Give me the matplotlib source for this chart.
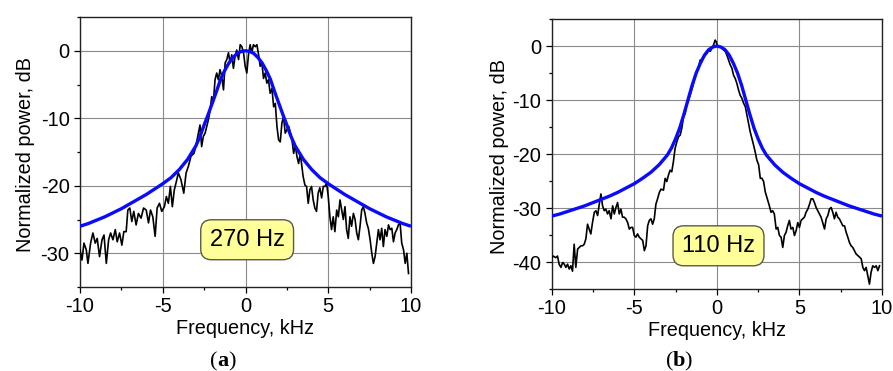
import matplotlib
matplotlib.use("Agg")
import matplotlib.pyplot as plt
from matplotlib.ticker import MultipleLocator

plt.rcParams['font.family'] = ['Liberation Sans', 'DejaVu Sans']
plt.rcParams['axes.unicode_minus'] = False

# ---------------- panel (a): measured spectrum and fit, 270 Hz ----------------
a_freq = [
    -10.0, -9.88, -9.76, -9.62, -9.52, -9.36, -9.22, -9.08, -8.96, -8.82,
    -8.67, -8.55, -8.41, -8.27, -8.15, -8.01, -7.87, -7.75, -7.61, -7.47,
    -7.35, -7.21, -7.11, -6.99, -6.87, -6.75, -6.61, -6.47, -6.31, -6.16,
    -6.0, -5.86, -5.74, -5.6, -5.46, -5.34, -5.2, -5.06, -4.9, -4.78,
    -4.66, -4.54, -4.42, -4.3, -4.18, -4.06, -3.9, -3.73, -3.59, -3.45,
    -3.29,
    -3.11, -2.99, -2.85, -2.75, -2.65, -2.55, -2.44, -2.34, -2.24, -2.14,
    -2.04, -1.94, -1.84, -1.74, -1.64, -1.54, -1.43, -1.33, -1.23, -1.13,
    -1.03, -0.93, -0.83, -0.73, -0.63, -0.53, -0.42, -0.32, -0.22, -0.12,
    -0.02, 0.08, 0.18, 0.28, 0.38, 0.48, 0.59, 0.69, 0.79, 0.89,
    0.99, 1.09, 1.19, 1.29, 1.39, 1.49, 1.6, 1.7, 1.8, 1.9,
    2.0, 2.1, 2.2, 2.3, 2.4, 2.5, 2.61, 2.71, 2.81, 2.91,
    3.01, 3.11, 3.21, 3.31,
    3.48, 3.59, 3.69, 3.79, 3.89, 3.99, 4.09, 4.19, 4.29, 4.39,
    4.49, 4.6, 4.7, 4.8, 4.9, 5.0, 5.1, 5.2, 5.3, 5.4,
    5.51, 5.61, 5.71, 5.81, 5.91, 6.01, 6.11, 6.21, 6.31, 6.41,
    6.52, 6.62, 6.72, 6.82, 6.92, 7.02, 7.12, 7.22, 7.32, 7.42,
    7.53, 7.63, 7.73, 7.83, 7.93, 8.03, 8.13, 8.23, 8.33, 8.43,
    8.54, 8.64, 8.74, 8.84, 8.94, 9.04, 9.14, 9.24, 9.34, 9.44,
    9.55, 9.65, 9.75, 9.85,
]
a_power = [
    -29.5, -31.0, -28.5, -29.5, -31.5, -28.5, -27.0, -28.5, -27.8, -30.5,
    -28.0, -27.3, -31.5, -28.0, -27.0, -28.0, -26.5, -28.3, -27.0, -28.8,
    -26.8, -26.8, -23.6, -23.3, -25.3, -23.8, -25.8, -24.1, -24.8, -23.3,
    -23.6, -25.5, -23.6, -24.6, -27.5, -23.3, -22.6, -23.8, -23.1, -21.6,
    -22.6, -20.1, -23.1, -20.6, -19.4, -18.1, -19.1, -21.1, -18.1, -17.1,
    -15.6,
    -15.2, -14.0, -12.2, -11.0, -14.2, -12.7, -12.2, -11.2, -10.2, -8.8,
    -6.8, -7.5, -4.3, -3.3, -4.3, -2.8, -3.8, -5.8, -1.8, -1.3,
    -0.3, -1.8, -0.6, -2.6, -0.8, 0.1, -1.3, 0.9, 0.6, -0.3,
    -2.3, -3.3, -0.6, 0.9, -0.3, 0.9, 0.6, 0.9, -0.6, -2.3,
    -1.8, -4.1, -3.3, -4.8, -4.3, -6.3, -5.6, -8.3, -7.8, -11.2,
    -13.2, -13.5, -10.7, -9.8, -12.2, -11.7, -11.2, -12.2, -13.2, -15.2,
    -14.0, -15.7, -16.7, -15.2,
    -18.6, -19.9, -20.1, -22.6, -20.6, -20.1, -22.1, -23.3, -23.8, -21.1,
    -20.3, -21.8, -20.1, -20.1, -19.6, -21.6, -24.6, -26.5, -24.6, -26.8,
    -23.6, -24.6, -22.1, -23.6, -25.0, -23.1, -26.5, -27.8, -24.6, -26.0,
    -24.1, -25.0, -27.0, -28.0, -26.0, -23.6, -23.1, -24.1, -25.5, -26.3,
    -28.0, -30.0, -31.5, -30.5, -28.5, -26.5, -28.0, -26.3, -29.0, -26.5,
    -27.5, -25.8, -26.5, -26.3, -28.3, -27.0, -26.5, -25.8, -25.5, -28.5,
    -29.5, -31.5, -30.0, -33.0,
]

a_fit_freq = [
    -10.0, -9.5, -9.0, -8.5, -8.0, -7.5, -7.0, -6.5, -6.0, -5.5,
    -5.0, -4.5, -4.0, -3.5, -3.0, -2.75, -2.5, -2.25, -2.0, -1.75,
    -1.5, -1.25, -1.0, -0.75, -0.5, -0.25, 0.0,
    0.25, 0.5, 0.75, 1.0, 1.25, 1.5, 1.75, 2.0, 2.25, 2.5,
    2.75, 3.0, 3.5, 4.0, 4.5, 5.0, 5.5, 6.0, 6.5, 7.0,
    7.5, 8.0, 8.5, 9.0, 9.5, 10.0,
]
a_fit_power = [
    -26.0, -25.6, -25.1, -24.6, -24.0, -23.4, -22.7, -22.0, -21.3, -20.5,
    -19.7, -18.8, -17.6, -16.1, -14.1, -12.7, -11.0, -9.4, -7.7, -6.0,
    -4.2, -2.9, -1.8, -1.0, -0.4, -0.1, 0.0,
    -0.1, -0.4, -1.0, -1.8, -2.9, -4.2, -6.0, -7.7, -9.4, -11.0,
    -12.7, -14.1, -16.1, -17.6, -18.8, -19.7, -20.5, -21.3, -22.0, -22.7,
    -23.4, -24.0, -24.6, -25.1, -25.6, -26.0,
]

# ---------------- panel (b): measured spectrum and fit, 110 Hz ----------------
b_freq = [
    -10.0, -9.91, -9.75, -9.65, -9.55, -9.44, -9.34, -9.24, -9.14, -9.04,
    -8.94, -8.84, -8.74, -8.64, -8.54, -8.43, -8.33, -8.23, -8.13, -8.03,
    -7.93, -7.83, -7.73, -7.63, -7.53, -7.42, -7.32, -7.22, -7.12, -7.02,
    -6.92, -6.82, -6.72, -6.62, -6.52, -6.41, -6.31, -6.21, -6.11, -6.01,
    -5.91, -5.81, -5.71, -5.61, -5.51, -5.4, -5.3, -5.2, -5.1, -5.0,
    -4.9, -4.8, -4.7, -4.6, -4.49, -4.39, -4.29, -4.19, -4.09, -3.99,
    -3.89, -3.79, -3.69, -3.59, -3.48, -3.38,
    -3.23, -3.13, -3.03, -2.93, -2.83, -2.73, -2.63, -2.53, -2.42, -2.32,
    -2.22, -2.12, -2.02, -1.92, -1.82, -1.72, -1.62, -1.52, -1.41, -1.31,
    -1.21, -1.11, -1.01, -0.91, -0.81, -0.71, -0.61, -0.51, -0.40, -0.30,
    -0.20, -0.10, -0.04, 0.04, 0.16, 0.30, 0.40, 0.51, 0.61, 0.71,
    0.81, 0.91, 1.01, 1.11, 1.21, 1.31, 1.41, 1.52, 1.62, 1.72,
    1.82, 1.92, 2.02, 2.12, 2.22, 2.32, 2.42, 2.53, 2.63, 2.73,
    2.83, 2.93,
    3.18, 3.28, 3.38, 3.48, 3.59, 3.69, 3.79, 3.89, 3.99, 4.09,
    4.19, 4.29, 4.39, 4.49, 4.6, 4.7, 4.8, 4.9, 5.0, 5.1,
    5.2, 5.3, 5.4, 5.51, 5.61, 5.71, 5.81, 5.91, 6.01, 6.11,
    6.21, 6.31, 6.41, 6.52, 6.62, 6.72, 6.82, 6.92, 7.02, 7.12,
    7.22, 7.32, 7.42, 7.53, 7.63, 7.73, 7.83, 7.93, 8.03, 8.13,
    8.23, 8.33, 8.43, 8.54, 8.64, 8.74, 8.84, 8.94, 9.04, 9.14,
    9.24, 9.34, 9.44, 9.55, 9.65, 9.75, 9.85,
]
b_power = [
    -39.2, -38.9, -39.2, -38.9, -40.4, -41.0, -40.1, -40.4, -41.0, -40.4,
    -41.3, -40.7, -41.7, -36.7, -41.0, -37.6, -37.3, -37.0, -37.0, -36.7,
    -35.7, -33.0, -33.9, -34.8, -32.7, -30.8, -30.5, -31.4, -29.3, -27.4,
    -29.6, -30.5, -30.2, -31.1, -30.5, -32.0, -29.6, -31.1, -29.9, -29.0,
    -31.1, -30.2, -31.7, -31.7, -32.0, -32.7, -33.9, -33.6, -33.6, -35.1,
    -35.4, -34.8, -35.4, -35.7, -36.0, -37.9, -37.0, -33.3, -32.3, -32.0,
    -33.0, -32.0, -29.3, -28.3, -27.1, -26.5,
    -26.7, -24.5, -25.1, -23.9, -23.0, -23.3, -21.4, -19.0, -17.7, -16.8,
    -16.5, -15.2, -13.1, -12.5, -10.9, -10.0, -9.1, -8.1, -6.9, -5.7,
    -4.8, -4.1, -2.6, -2.6, -2.0, -1.7, -1.4, -0.7, -1.0, -0.4,
    0.2, 1.1, 0.8, -0.1, -0.1, -0.4, -0.7, -1.0, -1.7, -2.6,
    -3.5, -4.1, -5.4, -6.0, -6.9, -8.1, -9.1, -9.7, -10.6, -11.2,
    -12.8, -14.3, -15.9, -17.1, -18.3, -19.6, -21.1, -22.0, -24.5, -24.5,
    -25.1, -27.0,
    -29.6, -30.8, -30.5, -31.1, -33.9, -33.6, -35.1, -35.4, -37.3, -35.1,
    -34.5, -33.3, -32.3, -33.9, -33.6, -35.1, -34.2, -32.7, -33.6, -32.3,
    -32.0, -31.7, -30.8, -30.2, -29.3, -28.3, -28.3, -29.0, -29.9, -30.5,
    -31.1, -31.7, -32.7, -33.9, -32.0, -31.4, -30.2, -29.9, -30.8, -32.0,
    -30.8, -31.7, -32.0, -32.7, -33.3, -33.3, -34.5, -35.4, -36.4, -37.0,
    -37.3, -37.9, -38.5, -38.8, -39.1, -39.4, -41.0, -41.6, -41.0, -42.5,
    -44.1, -41.9, -40.7, -41.0, -40.7, -41.6, -40.7,
]

b_fit_freq = [
    -10.0, -9.5, -9.0, -8.5, -8.0, -7.5, -7.0, -6.5, -6.0, -5.5,
    -5.0, -4.5, -4.0, -3.5, -3.0, -2.75, -2.5, -2.25, -2.0, -1.75,
    -1.5, -1.25, -1.0, -0.75, -0.5, -0.25, 0.0,
    0.25, 0.5, 0.75, 1.0, 1.25, 1.5, 1.75, 2.0, 2.25, 2.5,
    2.75, 3.0, 3.5, 4.0, 4.5, 5.0, 5.5, 6.0, 6.5, 7.0,
    7.5, 8.0, 8.5, 9.0, 9.5, 10.0,
]
b_fit_power = [
    -31.5, -31.1, -30.6, -30.1, -29.6, -29.0, -28.4, -27.8, -27.1, -26.3,
    -25.5, -24.5, -23.4, -22.0, -20.2, -18.9, -17.2, -15.2, -12.7, -10.0,
    -7.3, -5.0, -3.2, -1.7, -0.7, -0.2, 0.0,
    -0.2, -0.7, -1.7, -3.2, -5.0, -7.3, -10.0, -12.7, -15.2, -17.2,
    -18.9, -20.2, -22.0, -23.4, -24.5, -25.5, -26.3, -27.1, -27.8, -28.4,
    -29.0, -29.6, -30.1, -30.6, -31.1, -31.5,
]

x_ticks = [-10, -5, 0, 5, 10]
a_y_ticks = [0, -10, -20, -30]
b_y_ticks = [0, -10, -20, -30, -40]

panels = [
    dict(rect=[80 / 893, 84 / 371, 331 / 893, 270 / 371],
         freq=a_freq, power=a_power, fit_f=a_fit_freq, fit_p=a_fit_power,
         ylim=(-35, 5), yticks=a_y_ticks, tag="270 Hz", tag_y=-28.0,
         letter="a", letter_x=222.7 / 893, ylab_x=-0.166),
    dict(rect=[551.7 / 893, 82 / 371, 330.3 / 893, 270 / 371],
         freq=b_freq, power=b_power, fit_f=b_fit_freq, fit_p=b_fit_power,
         ylim=(-45, 5), yticks=b_y_ticks, tag="110 Hz", tag_y=-37.0,
         letter="b", letter_x=679 / 893, ylab_x=-0.157),
]

fig = plt.figure(figsize=(8.93, 3.71), dpi=100)

for p in panels:
    ax = fig.add_axes(p["rect"])
    ax.plot(p["freq"], p["power"], color="black", lw=1.2, zorder=3)
    ax.plot(p["fit_f"], p["fit_p"], color="#0a0aff", lw=2.4, zorder=4,
            solid_capstyle="butt")
    ax.set_xlim(-10, 10)
    ax.set_ylim(*p["ylim"])
    ax.set_xticks(x_ticks)
    ax.set_yticks(p["yticks"])
    ax.xaxis.set_minor_locator(MultipleLocator(2.5))
    ax.yaxis.set_minor_locator(MultipleLocator(5))
    ax.tick_params(which="major", direction="out", length=4.5, width=0.9,
                   labelsize=14.5, pad=3)
    ax.tick_params(which="minor", direction="out", length=2.5, width=0.9)
    ax.grid(True, which="major", color="#8a8a8a", lw=0.8, zorder=1)
    ax.set_axisbelow(True)
    for s in ax.spines.values():
        s.set_linewidth(1.0)
        s.set_color("#222222")
    ax.set_xlabel("Frequency, kHz", fontsize=14.3)
    ax.set_ylabel("Normalized power, dB", fontsize=14.3)
    ax.xaxis.set_label_coords(0.5, -0.152)
    ax.xaxis.label.set_va("center")
    ax.yaxis.set_label_coords(p["ylab_x"], 0.49)
    ax.yaxis.label.set_va("center")
    ax.text(0.1, p["tag_y"], p["tag"], fontsize=17, ha="center", va="center",
            zorder=6,
            bbox=dict(boxstyle="round,pad=0.38,rounding_size=0.45",
                      fc="#ffff99", ec="#5a5a4a", lw=1.0))

    # sub-figure caption: "(a)" / "(b)" with a bold letter
    cy = 9.5 / 371
    fig.text(p["letter_x"], cy, p["letter"], fontsize=16, fontweight="bold",
             family="Liberation Serif", ha="center", va="center")
    fig.text(p["letter_x"] - 5.2 / 893, cy, "(", fontsize=16,
             family="Liberation Serif", ha="right", va="center")
    fig.text(p["letter_x"] + 5.2 / 893, cy, ")", fontsize=16,
             family="Liberation Serif", ha="left", va="center")

fig.savefig("out.png", dpi=100)
